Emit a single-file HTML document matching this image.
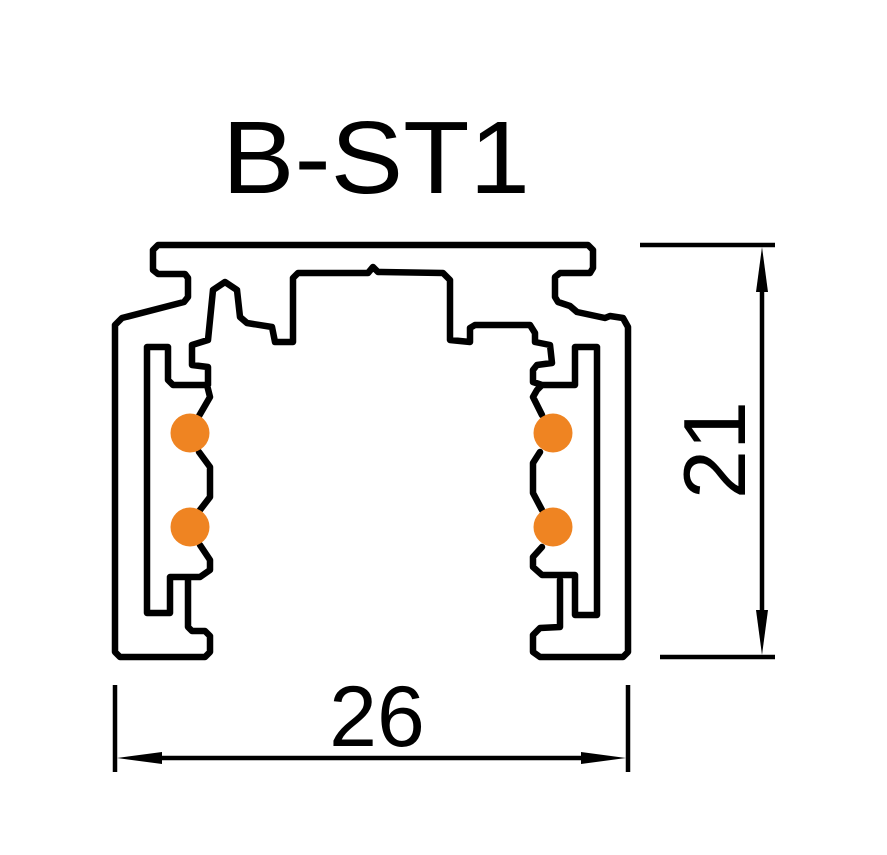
<!DOCTYPE html>
<html><head><meta charset="utf-8"><style>html,body{margin:0;padding:0;background:#fff}svg{display:block}</style></head>
<body>
<svg width="887" height="855" viewBox="0 0 887 855" xmlns="http://www.w3.org/2000/svg">
<g fill="none" stroke="#000" stroke-width="6.5" stroke-linejoin="round" stroke-linecap="round">
<path d="M373,267 L368,273 L298,273 L293,278 L293,342 L275,342 L272,327 L247,323 L240,317 L237,290 L225,282 L213,290 L208,340 L192,345 L192,365 L208,367 L208,385
M168,347 L168,380 L173,385 L207,385 L210,397 L199,416
M199,452 L210,467 L210,497 L200,510
M200,545 L210,560 L210,570 L200,577 L170,577 L170,613 L147,613 L147,347 L168,347
M188,578 L188,627 L192,631 L205,631 L210,636 L210,652 L205,657 L120,657 L115,652 L115,325 L122,318 L184,302 L188,297 L188,278 L185,274 L158,274 L153,270 L153,250 L158,245 L588,245 L593,250 L593,268 L590,273 L560,273 L555,277 L555,297 L558,302 L570,306 L577,312 L605,318 L610,316 L623,318 L628,327 L628,652 L623,657 L540,657 L533,652 L533,635 L540,628 L560,627 L560,580
M373,267 L378,272 L443,273 L450,280 L450,340 L470,342 L470,328 L475,325 L530,325 L535,333 L535,342 L550,345 L552,363 L537,365 L533,370 L533,382 L542,385 L575,385 L575,347 L597,347 L597,615 L575,615 L575,575 L542,575 L533,567 L533,557 L542,547
M542,510 L533,493 L533,463 L540,452
M542,415 L533,397 L537,390 L542,385"/>
</g>
<g fill="#ef8422">
<circle cx="190" cy="433" r="19.5"/><circle cx="190" cy="527" r="19.5"/>
<circle cx="553" cy="433" r="19.5"/><circle cx="553" cy="527" r="19.5"/>
</g>
<g stroke="#000" stroke-width="4.5">
<line x1="640" y1="245" x2="775" y2="245"/>
<line x1="660" y1="657" x2="775" y2="657"/>
<line x1="762" y1="285" x2="762" y2="617"/>
<line x1="115" y1="685" x2="115" y2="772"/>
<line x1="628" y1="685" x2="628" y2="772"/>
<line x1="155" y1="758" x2="588" y2="758"/>
</g>
<g fill="#000">
<polygon points="762,247 756,292 768,292"/>
<polygon points="762,655 756,610 768,610"/>
<polygon points="117,758 162,752 162,764"/>
<polygon points="626,758 581,752 581,764"/>
</g>
<g font-family="Liberation Sans, Arial, sans-serif" fill="#000">
<text x="376" y="193" font-size="103" text-anchor="middle" textLength="308" lengthAdjust="spacingAndGlyphs">B-ST1</text>
<text x="377" y="746" font-size="86" text-anchor="middle">26</text>
<text transform="translate(745,450) rotate(-90)" font-size="88" text-anchor="middle">21</text>
</g>
</svg>
</body></html>
